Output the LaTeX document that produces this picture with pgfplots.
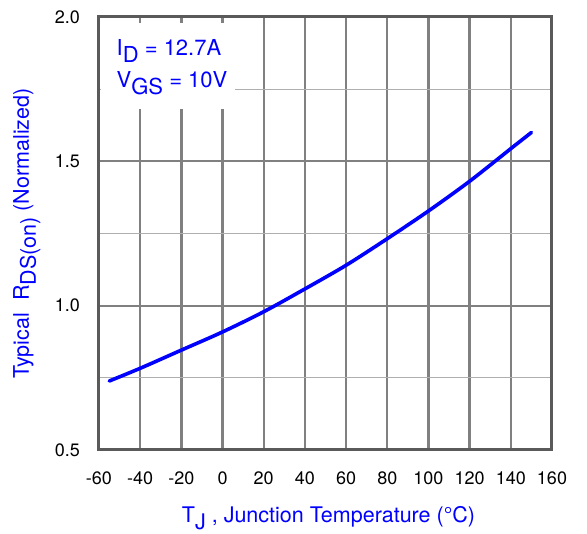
\documentclass[border=0pt]{standalone}
\usepackage{pgfplots}
\pgfplotsset{compat=1.18}
\usepackage{fontspec}
\setmainfont{TeX Gyre Heros}
\definecolor{lblue}{RGB}{0,0,255}
\definecolor{gridgray}{RGB}{128,128,128}
\definecolor{minorgray}{RGB}{175,175,175}
\definecolor{framegray}{RGB}{90,90,90}
\newcommand\sub[1]{\raisebox{-0.32em}{#1}}
\begin{document}
\begin{tikzpicture}
\useasboundingbox (-99pt,-84pt) rectangle (488pt,450pt);
\begin{axis}[
  at={(0pt,0pt)}, anchor=south west,
  scale only axis, width=453pt, height=433pt,
  xmin=-60, xmax=160, ymin=0.5, ymax=2.0,
  xtick={-60,-40,...,160},
  ytick={0.5,1.0,1.5,2.0},
  minor ytick={0.75,1.25,1.75},
  grid=both,
  major grid style={line width=2.3pt, draw=gridgray},
  minor grid style={line width=1.2pt, draw=minorgray},
  major tick length=0pt, minor tick length=0pt,
  axis line style={line width=3pt, draw=framegray},
  tick label style={font=\fontsize{18}{20}\selectfont, text=black},
  /pgf/number format/assume math mode=true,
  yticklabel style={/pgf/number format/fixed, /pgf/number format/fixed zerofill, /pgf/number format/precision=1, anchor=east, inner sep=0pt, xshift=-19pt},
  xticklabel style={anchor=base, inner sep=0pt, yshift=-35pt},
  xlabel={T\sub{J} , Junction Temperature (°C)},
  ylabel={Typical\ \ R\sub{DS(on)} (Normalized)},
  label style={font=\fontsize{21.5}{25}\selectfont, text=lblue},
  xlabel style={at={([yshift=-73pt,xshift=3pt]axis description cs:0.5,0)}, anchor=base, inner sep=0pt},
  ylabel style={at={([xshift=-70pt]axis description cs:0,0.5)}, anchor=base, inner sep=0pt, rotate=0},
]
\fill[white] (axis cs:-59,1.98) rectangle (axis cs:6,1.68);
\node[anchor=base west, inner sep=0pt, text=lblue, font=\fontsize{22}{25}\selectfont] at (axis cs:-51.5,1.868) {I\sub{D} = 12.7A};
\node[anchor=base west, inner sep=0pt, text=lblue, font=\fontsize{22}{25}\selectfont] at (axis cs:-51.5,1.757) {V\sub{GS} = 10V};
\addplot[lblue, line width=3.6pt, smooth, line cap=round] coordinates {
(-55,0.739) (-40,0.783) (-20,0.846) (0,0.909) (20,0.979) (40,1.058)
(60,1.140) (80,1.232) (100,1.328) (120,1.431) (140,1.544) (150,1.600)
};
\end{axis}
\end{tikzpicture}
\end{document}
